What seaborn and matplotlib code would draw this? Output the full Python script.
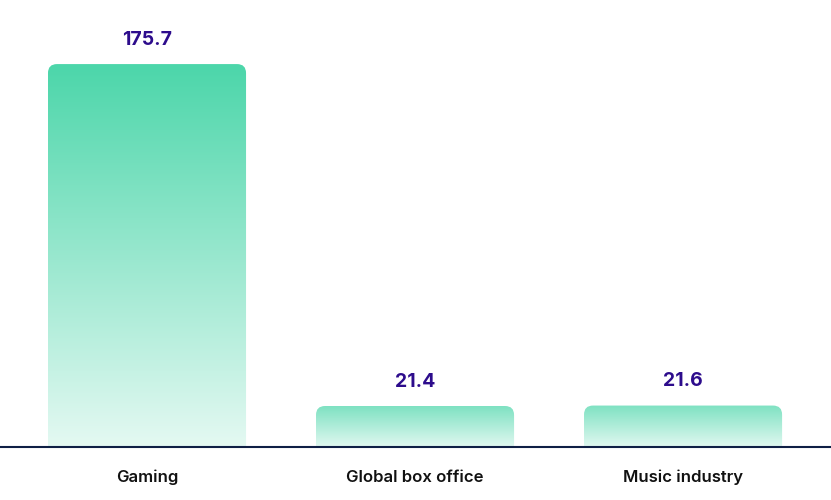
import numpy as np
import pandas as pd
import matplotlib
matplotlib.use("Agg")
import matplotlib.pyplot as plt
import seaborn as sns
from matplotlib.patches import FancyBboxPatch
from matplotlib.colors import to_rgb

categories = ["Gaming", "Global box office", "Music industry"]
values = [175.7, 21.4, 21.6]
value_labels = ["175.7", "21.4", "21.6"]

sns.set_theme(style="white")
plt.rcParams['font.family'] = ['Inter', 'DejaVu Sans']

df = pd.DataFrame({"category": categories, "value": values})

k = 2.216      # pixels per unit
ymin = 2.9

fig = plt.figure(figsize=(8.31, 5.0), dpi=100)
ax = fig.add_axes([0, 53/500, 1, 447/500])
sns.barplot(data=df, x="category", y="value", ax=ax, width=0.739,
            color="white", edgecolor="none", order=categories)

ax.set_xlim(-0.5485, 2.552)
ax.set_ylim(ymin, ymin + 447/k)

green = np.array(to_rgb("#4cd6aa"))
rx = 9/268
ry = 9/k
for i, p in enumerate(ax.patches):
    x0, w, h = p.get_x(), p.get_width(), p.get_height()
    p.set_visible(False)
    top_alpha = 1.0 if h > 100 else 0.72
    bot_alpha = 0.15 if h > 100 else 0.17
    n = 256
    a = np.linspace(top_alpha, bot_alpha, n)[:, None]
    img = np.ones((n, 2, 3)) * (1 - a[..., None]) + green[None, None, :] * a[..., None]
    im = ax.imshow(img, extent=[x0, x0 + w, ymin, h], aspect="auto", zorder=2,
                   interpolation="bilinear", origin="upper")
    clip = FancyBboxPatch((x0, ymin - ry * 2), w, h - ymin + ry * 2,
                          boxstyle=f"round,pad=0,rounding_size={rx}",
                          mutation_aspect=ry / rx, transform=ax.transData,
                          facecolor="none", edgecolor="none")
    ax.add_patch(clip)
    im.set_clip_path(clip)
    ax.annotate(value_labels[i], (x0 + w / 2, h), xytext=(0, 24.5),
                textcoords="offset pixels", ha="center", va="center",
                fontsize=14, fontweight="bold", color="#2d0c8c", zorder=3,
                annotation_clip=False)

ax.set_xlim(-0.5485, 2.552)
ax.set_ylim(ymin, ymin + 447/k)
ax.axhline(ymin, color="#0f1f45", lw=1.5, zorder=4, clip_on=False)
for s in ax.spines.values():
    s.set_visible(False)
ax.set_yticks([])
ax.set_xlabel("")
ax.set_ylabel("")
ax.tick_params(axis="x", length=0, pad=16.5, labelsize=12, labelcolor="#111111")
for t in ax.get_xticklabels():
    t.set_fontweight("semibold")

fig.savefig("out.png", dpi=100, facecolor="white")
